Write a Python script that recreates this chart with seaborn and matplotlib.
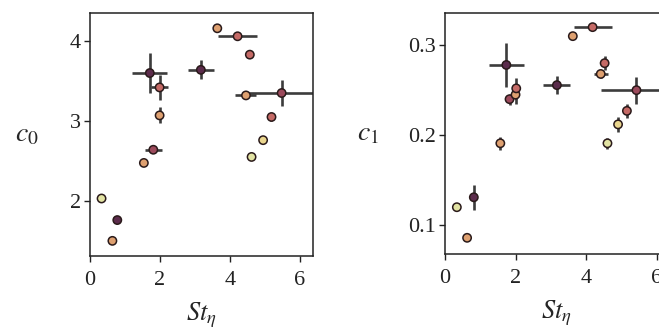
import numpy as np
import pandas as pd
import seaborn as sns
import matplotlib.pyplot as plt

# data (17 runs, same order in both panels)
st_c0 = [0.33, 0.64, 0.78, 1.54, 1.81, 1.99, 1.99, 1.71, 3.17, 3.64, 4.22, 4.57, 4.46, 5.48, 5.19, 4.95, 4.62]
c0 = [2.03, 1.50, 1.76, 2.475, 2.64, 3.07, 3.42, 3.60, 3.64, 4.16, 4.06, 3.83, 3.32, 3.35, 3.05, 2.76, 2.55]
c0_xerr = [0, 0, 0, 0, 0.25, 0, 0.24, 0.50, 0.38, 0, 0.55, 0, 0.30, 1.00, 0, 0, 0]
c0_yerr = [0, 0, 0, 0, 0.04, 0.10, 0.16, 0.25, 0.12, 0, 0, 0.04, 0, 0.16, 0.05, 0, 0]

st_c1 = [0.34, 0.63, 0.82, 1.57, 1.83, 2.00, 2.02, 1.74, 3.17, 3.62, 4.18, 4.52, 4.41, 5.42, 5.15, 4.90, 4.60]
c1 = [0.120, 0.086, 0.131, 0.191, 0.240, 0.245, 0.252, 0.278, 0.2556, 0.310, 0.320, 0.280, 0.268, 0.250, 0.227, 0.212, 0.191]
c1_xerr = [0, 0, 0, 0, 0.05, 0, 0.10, 0.49, 0.38, 0, 0.54, 0, 0.20, 1.00, 0, 0, 0]
c1_yerr = [0, 0, 0.014, 0.007, 0.006, 0.010, 0.012, 0.024, 0.010, 0, 0, 0.008, 0.004, 0.015, 0.008, 0.008, 0.006]

# colour level of each run (0 = pale, 5 = dark)
level = [0, 2, 5, 2, 4, 2, 3, 5, 5, 2, 3, 3, 2, 4, 3, 1, 0]

pal = {0: "#e2e3a3", 1: "#ead68e", 2: "#dea070", 3: "#c56a66", 4: "#9c4a5c", 5: "#5c2c4c"}

df0 = pd.DataFrame({"St": st_c0, "c": c0, "xe": c0_xerr, "ye": c0_yerr, "level": level})
df1 = pd.DataFrame({"St": st_c1, "c": c1, "xe": c1_xerr, "ye": c1_yerr, "level": level})

sns.set_style("ticks")
plt.rcParams["font.family"] = ["Liberation Serif", "DejaVu Serif"]
plt.rcParams["mathtext.fontset"] = "stix"

fig = plt.figure(figsize=(6.59, 3.36), dpi=100)
ax0 = fig.add_axes([0.1366, 0.238, 0.338, 0.723])
ax1 = fig.add_axes([0.675, 0.244, 0.338, 0.717])

def panel(ax, df, ylab, lpad):
    ax.errorbar(df["St"], df["c"], xerr=df["xe"], yerr=df["ye"], fmt="none",
                ecolor="#3c3c3c", elinewidth=1.9, capsize=0, zorder=1)
    sns.scatterplot(data=df, x="St", y="c", hue="level", palette=pal, ax=ax,
                    s=36, edgecolor="#2a1a1a", linewidth=1.1, legend=False, zorder=3)
    for s in ax.spines.values():
        s.set_linewidth(1.1)
        s.set_color("#222222")
    ax.tick_params(direction="out", length=4.5, width=1.0, labelsize=16, colors="#222222", pad=2)
    ax.tick_params(axis="x", pad=6)
    ax.set_xlabel(r"$St_\eta$", fontsize=19, labelpad=8)
    ax.set_ylabel(ylab, fontsize=20, rotation=0, labelpad=lpad, va="center")

panel(ax0, df0, r"$c_0$", 31)
ax0.set_xlim(0, 6.37)
ax0.set_ylim(1.31, 4.35)
ax0.set_xticks([0, 2, 4, 6])
ax0.set_yticks([2, 3, 4])

panel(ax1, df1, r"$c_1$", 29)
ax1.set_xlim(0, 6.3)
ax1.set_ylim(0.068, 0.3356)
ax1.set_xticks([0, 2, 4, 6])
ax1.set_yticks([0.1, 0.2, 0.3])
ax1.set_yticklabels(["0.1", "0.2", "0.3"])

fig.savefig("out.png", dpi=100)
